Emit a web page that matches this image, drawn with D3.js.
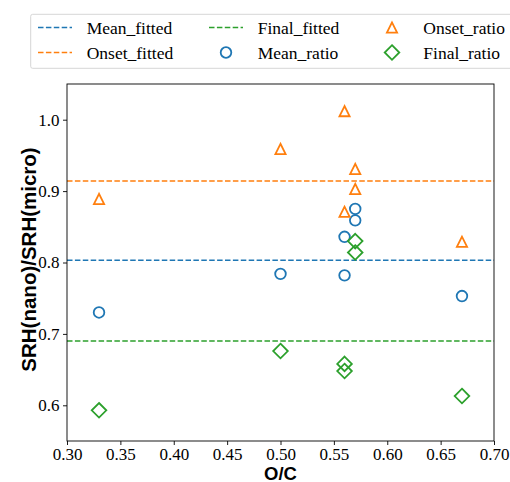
<!DOCTYPE html>
<html>
<head>
<meta charset="utf-8">
<script src="https://cdn.jsdelivr.net/npm/d3@7"></script>
<style>
  body { margin: 0; background: #fff; }
  svg { display: block; }
  .serif { font-family: "Liberation Serif", "Times New Roman", Times, "DejaVu Serif", serif; }
  .sansb { font-family: "Liberation Sans", Arial, Helvetica, sans-serif; font-weight: bold; }
</style>
</head>
<body>
<div id="chart"></div>
<script>
// O/C values for each sample
var oc = [0.33, 0.50, 0.56, 0.56, 0.57, 0.57, 0.67];
var meanRatio  = [0.730, 0.784, 0.782, 0.836, 0.875, 0.859, 0.753];
var onsetRatio = [0.889, 0.959, 1.012, 0.871, 0.931, 0.903, 0.829];
var finalRatio = [0.593, 0.676, 0.658, 0.648, 0.830, 0.814, 0.613];
// fitted constants (horizontal lines)
var fittedNames  = ["Mean_fitted", "Onset_fitted", "Final_fitted"];
var fittedValues = [0.803, 0.914, 0.690];
var xTicks = [0.30, 0.35, 0.40, 0.45, 0.50, 0.55, 0.60, 0.65, 0.70];
var yTicks = [0.6, 0.7, 0.8, 0.9, 1.0];

var blue = "#1f77b4", orange = "#ff7f0e", green = "#2ca02c";

var W = 510, H = 482;
var margin = { top: 84, right: 16, bottom: 41, left: 67 },
  width = W - margin.left - margin.right,
  height = H - margin.top - margin.bottom;

var svg = d3.select("#chart")
  .append("svg")
  .attr("width", W)
  .attr("height", H);

var g = svg.append("g")
  .attr("transform", "translate(" + margin.left + "," + margin.top + ")");

var x = d3.scaleLinear().domain([0.30, 0.70]).range([0, width]);
var y = d3.scaleLinear().domain([0.55, 1.05]).range([height, 0]);

// symbols
var circle = function(sel, cx, cy) {
  sel.append("circle").attr("cx", cx).attr("cy", cy).attr("r", 5.3)
    .attr("fill", "none").attr("stroke", blue).attr("stroke-width", 1.8);
};
var triangle = function(sel, cx, cy) {
  var s = 5.1;
  sel.append("path")
    .attr("d", "M" + cx + "," + (cy - s) + "L" + (cx - s) + "," + (cy + s) + "L" + (cx + s) + "," + (cy + s) + "Z")
    .attr("fill", "none").attr("stroke", orange).attr("stroke-width", 1.8).attr("stroke-linejoin", "miter");
};
var diamond = function(sel, cx, cy) {
  var s = 7.3;
  sel.append("path")
    .attr("d", "M" + cx + "," + (cy - s) + "L" + (cx + s) + "," + cy + "L" + cx + "," + (cy + s) + "L" + (cx - s) + "," + cy + "Z")
    .attr("fill", "none").attr("stroke", green).attr("stroke-width", 1.8);
};

// fitted lines
var fitColors = [blue, orange, green];
g.selectAll(".fit")
  .data(fittedValues)
  .enter()
  .append("line")
  .attr("class", "fit")
  .attr("x1", 0).attr("x2", width)
  .attr("y1", function(d) { return y(d); })
  .attr("y2", function(d) { return y(d); })
  .attr("stroke", function(d, i) { return fitColors[i]; })
  .attr("stroke-width", 1.5)
  .attr("stroke-dasharray", "5.5,2.4");

// scatter
oc.forEach(function(v, i) { circle(g, x(v), y(meanRatio[i])); });
oc.forEach(function(v, i) { triangle(g, x(v), y(onsetRatio[i])); });
oc.forEach(function(v, i) { diamond(g, x(v), y(finalRatio[i])); });

// axes
var xAxis = g.append("g")
  .attr("transform", "translate(0," + height + ")")
  .call(d3.axisBottom(x).tickValues(xTicks).tickFormat(d3.format(".2f")).tickSize(4).tickPadding(2.5));
var yAxis = g.append("g")
  .call(d3.axisLeft(y).tickValues(yTicks).tickFormat(d3.format(".1f")).tickSize(4).tickPadding(3.5));
[xAxis, yAxis].forEach(function(a) {
  a.attr("font-family", null).attr("font-size", null);
  a.select(".domain").remove();
  a.selectAll("text")
    .attr("class", "serif")
    .style("font-size", "17px")
    .attr("fill", "#000");
  a.selectAll(".tick line").attr("stroke", "#000").attr("stroke-width", 0.9);
});

// frame
g.append("rect")
  .attr("x", 0).attr("y", 0)
  .attr("width", width).attr("height", height)
  .attr("fill", "none")
  .attr("stroke", "#000")
  .attr("stroke-width", 0.9);

// axis titles
svg.append("text")
  .attr("class", "sansb")
  .attr("x", margin.left + width / 2)
  .attr("y", 479.5)
  .attr("text-anchor", "middle")
  .style("font-size", "18.5px")
  .text("O/C");

svg.append("text")
  .attr("class", "sansb")
  .attr("transform", "translate(36," + (margin.top + height / 2 - 3) + ") rotate(-90)")
  .attr("text-anchor", "middle")
  .style("font-size", "20.5px")
  .text("SRH(nano)/SRH(micro)");

// legend
var leg = svg.append("g");
leg.append("rect")
  .attr("x", 30.7).attr("y", 14.3)
  .attr("width", 500).attr("height", 54)
  .attr("rx", 2)
  .attr("fill", "#fff")
  .attr("stroke", "#d6d6d6")
  .attr("stroke-width", 1);

var rowY = [27.5, 52.5];
var colHandle = [55, 226, 392];
var colText = [86.7, 257.7, 423.3];
var legendItems = [
  { name: fittedNames[0], type: "line", color: blue, col: 0, row: 0 },
  { name: fittedNames[1], type: "line", color: orange, col: 0, row: 1 },
  { name: fittedNames[2], type: "line", color: green, col: 1, row: 0 },
  { name: "Mean_ratio", type: "circle", col: 1, row: 1 },
  { name: "Onset_ratio", type: "triangle", col: 2, row: 0 },
  { name: "Final_ratio", type: "diamond", col: 2, row: 1 }
];
legendItems.forEach(function(it) {
  var cx = colHandle[it.col], cy = rowY[it.row];
  if (it.type === "line") {
    leg.append("line")
      .attr("x1", cx - 17).attr("x2", cx + 17)
      .attr("y1", cy).attr("y2", cy)
      .attr("stroke", it.color)
      .attr("stroke-width", 1.5)
      .attr("stroke-dasharray", "5.5,2.4");
  } else if (it.type === "circle") {
    circle(leg, cx, cy);
  } else if (it.type === "triangle") {
    triangle(leg, cx, cy);
  } else {
    diamond(leg, cx, cy);
  }
  leg.append("text")
    .attr("class", "serif")
    .attr("x", colText[it.col])
    .attr("y", cy + 6)
    .style("font-size", "17.5px")
    .attr("fill", "#000")
    .text(it.name);
});
</script>
</body>
</html>
